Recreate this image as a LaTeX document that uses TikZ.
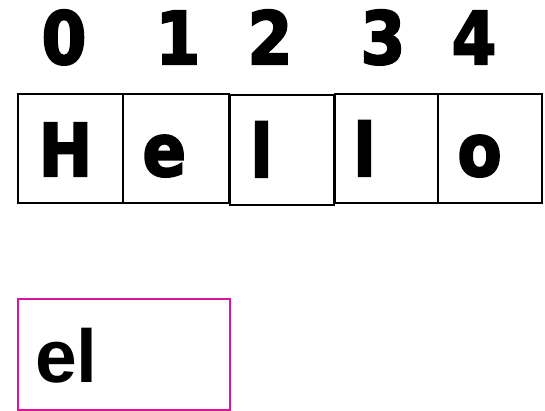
\documentclass[tikz,border=0pt]{standalone}
\usepackage{fontspec}
\newfontfamily\dejafam{DejaVu Sans Bold}[FakeStretch=0.88]
\newfontfamily\arialfam{Liberation Sans}
\newcommand\heavytext{\special{pdf:literal direct 2 Tr 2 w}}
\definecolor{boxmag}{RGB}{214,22,152}
\begin{document}
\begin{tikzpicture}[x=1pt,y=-1pt,
  cell/.style={draw=black,line width=1.6pt,rectangle,inner sep=0pt,anchor=north west},
  big/.style={font=\dejafam\fontsize{73}{88}\selectfont\heavytext,inner sep=0pt},
  lettr/.style={big,anchor=base west},
  idx/.style={big,anchor=base},
  res/.style={draw=boxmag,line width=1.6pt,rectangle,inner sep=0pt,anchor=north west}]
\useasboundingbox (0,0) rectangle (545,411);
% cells
\node[cell,minimum width=105pt,minimum height=109pt] (c0) at (17,93) {};
\node[cell,minimum width=106pt,minimum height=109pt] (c1) at (122,93) {};
\node[cell,minimum width=104pt,minimum height=110pt] (c2) at (229,94) {};
\node[cell,minimum width=103pt,minimum height=109pt] (c3) at (334,93) {};
\node[cell,minimum width=104pt,minimum height=109pt] (c4) at (437,93) {};
% letters
\node[lettr] (l0) at (38.4,176) {H};
\node[lettr] (l1) at (142.3,176) {e};
\node[lettr] (l2) at (250.4,177) {l};
\node[lettr] (l3) at (353.4,176) {l};
\node[lettr] (l4) at (457.3,176) {o};
% indices
\node[idx] (i0) at (64,64) {0};
\node[idx] (i1) at (178,64) {1};
\node[idx] (i2) at (270,64) {2};
\node[idx] (i3) at (383,64) {3};
\node[idx] (i4) at (474,64) {4};
% result
\node[res,minimum width=212pt,minimum height=111pt] (r) at (17,298) {};
\node[font=\arialfam\bfseries\fontsize{75}{90}\selectfont,inner sep=0pt,anchor=base west] (rt) at (35,382) {el};
\end{tikzpicture}
\end{document}
